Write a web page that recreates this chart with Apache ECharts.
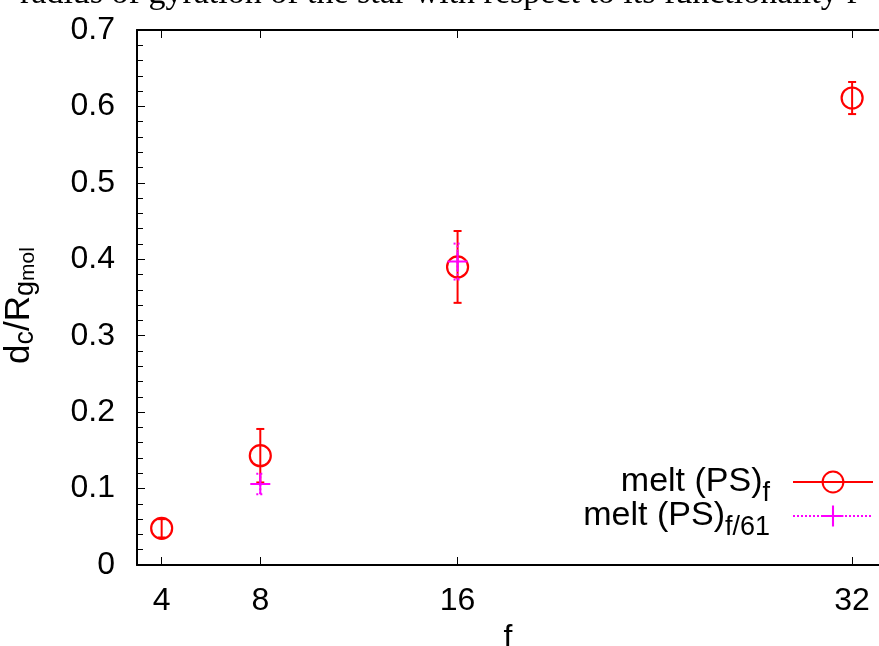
<!DOCTYPE html>
<html>
<head>
<meta charset="utf-8">
<script src="https://cdn.jsdelivr.net/npm/echarts@6/dist/echarts.min.js"></script>
<style>
html,body{margin:0;padding:0;background:#fff;}
#chart{width:879px;height:646px;}
</style>
</head>
<body>
<div id="chart"></div>
<script>
// ---- data ----
const xTickValues = [4, 8, 16, 32];
const fMelt = [4, 8, 16, 32];
const meltF = [0.048, 0.143, 0.390, 0.611];
const meltFErr = [0.012, 0.035, 0.047, 0.021];
const fMelt61 = [8, 16];
const meltF61 = [0.106, 0.397];
const meltF61Err = [0.0135, 0.0235];
const titleText = 'radius of gyration of the star with respect to its functionality f';

const RED = '#ff0000';
const MAG = '#ff00ff';
const FONT = '"Liberation Sans", Arial, sans-serif';

function errData(xs, ys, es) { return xs.map((x, i) => [x, ys[i], es[i]]); }
function ptData(xs, ys) { return xs.map((x, i) => [x, ys[i]]); }

function errRenderer(color, dash) {
  return function (params, api) {
    const x = api.value(0), y = api.value(1), e = api.value(2);
    const lo = api.coord([x, y - e]);
    const hi = api.coord([x, y + e]);
    const cw = 4;
    const style = { stroke: color, lineWidth: 2, lineDash: dash };
    return {
      type: 'group',
      children: [
        { type: 'line', shape: { x1: lo[0], y1: lo[1], x2: hi[0], y2: hi[1] }, style: style },
        { type: 'line', shape: { x1: lo[0] - cw, y1: lo[1], x2: lo[0] + cw, y2: lo[1] }, style: style },
        { type: 'line', shape: { x1: hi[0] - cw, y1: hi[1], x2: hi[0] + cw, y2: hi[1] }, style: style }
      ]
    };
  };
}

const chart = echarts.init(document.getElementById('chart'), null, { renderer: 'canvas' });
const axisLineStyle = { color: '#000', width: 2 };

const option = {
  backgroundColor: '#fff',
  animation: false,
  grid: { left: 137, right: 0, top: 30, bottom: 81, containLabel: false, outerBoundsMode: 'none' },
  graphic: [
    {
      type: 'text', left: 20, top: -23,
      style: { text: titleText, font: '34px "Liberation Serif", serif', fill: '#000' }
    }
  ],
  legend: {
    orient: 'vertical',
    right: 0,
    top: 460,
    align: 'right',
    itemWidth: 80,
    itemHeight: 26,
    itemGap: -8,
    selectedMode: false,
    formatter: function (name) {
      if (name === 'f') return '{m|melt (PS)}{s|f}';
      return '{m|melt (PS)}{s|f/61}';
    },
    textStyle: {
      rich: {
        m: { fontFamily: FONT, fontSize: 34, color: '#000', lineHeight: 50 },
        s: { fontFamily: FONT, fontSize: 27, color: '#000', lineHeight: 10, verticalAlign: 'bottom', padding: [0, 18, 0, 0] }
      }
    },
    data: [
      { name: 'f', lineStyle: { color: RED, width: 2, opacity: 1, type: 'solid' } },
      { name: 'f/61', lineStyle: { color: MAG, width: 2, opacity: 1, type: [2, 2] } }
    ]
  },
  xAxis: [
    {
      type: 'value', min: 3, max: 33.09, position: 'bottom',
      name: 'f', nameLocation: 'middle', nameGap: 48,
      nameTextStyle: { fontFamily: FONT, fontSize: 32, color: '#000' },
      axisLine: { show: true, onZero: false, lineStyle: axisLineStyle },
      axisTick: { show: true, inside: true, length: 8, customValues: xTickValues, lineStyle: { color: '#000', width: 1 } },
      axisLabel: { show: true, customValues: xTickValues, margin: 20, fontFamily: FONT, fontSize: 32, color: '#000' },
      splitLine: { show: false }
    },
    {
      type: 'value', min: 3, max: 33.09, position: 'top',
      axisLine: { show: true, onZero: false, lineStyle: axisLineStyle },
      axisTick: { show: true, inside: true, length: 8, customValues: xTickValues, lineStyle: { color: '#000', width: 1 } },
      axisLabel: { show: false },
      splitLine: { show: false }
    }
  ],
  yAxis: [
    {
      type: 'value', min: 0, max: 0.7, interval: 0.1, position: 'left',
      name: '{m|d}{s|c}{m|/R}{s|g}{t|mol}',
      nameLocation: 'middle', nameRotate: 90, nameGap: 98,
      nameTextStyle: {
        padding: [0, 16, 0, 0],
        rich: {
          m: { fontFamily: FONT, fontSize: 35, color: '#000', lineHeight: 40 },
          s: { fontFamily: FONT, fontSize: 27, color: '#000', lineHeight: 20, verticalAlign: 'bottom' },
          t: { fontFamily: FONT, fontSize: 21, color: '#000', lineHeight: 2, verticalAlign: 'bottom' }
        }
      },
      axisLine: { show: true, onZero: false, lineStyle: axisLineStyle },
      axisTick: { show: true, inside: true, length: 8, lineStyle: { color: '#000', width: 1 } },
      minorTick: { show: true, splitNumber: 5, length: 6, lineStyle: { color: '#000', width: 1 } },
      axisLabel: { margin: 22, fontFamily: FONT, fontSize: 32, color: '#000',
        formatter: function (v) { return v === 0 ? '0' : v.toFixed(1); } },
      splitLine: { show: false }
    }
  ],
  series: [
    {
      name: 'f-err', type: 'custom', xAxisIndex: 0, yAxisIndex: 0,
      renderItem: errRenderer(RED, null),
      data: errData(fMelt, meltF, meltFErr), z: 2
    },
    {
      name: 'f', type: 'line', xAxisIndex: 0, yAxisIndex: 0,
      data: ptData(fMelt, meltF),
      symbol: 'circle', symbolSize: 21, showSymbol: true,
      itemStyle: { color: 'rgba(0,0,0,0)', borderColor: RED, borderWidth: 2.2 },
      lineStyle: { opacity: 0, width: 0 },
      color: RED, z: 3
    },
    {
      name: 'f/61-err', type: 'custom', xAxisIndex: 0, yAxisIndex: 0,
      renderItem: errRenderer(MAG, [2, 2]),
      data: errData(fMelt61, meltF61, meltF61Err), z: 4
    },
    {
      name: 'f/61', type: 'line', xAxisIndex: 0, yAxisIndex: 0,
      data: ptData(fMelt61, meltF61),
      symbol: 'path://M0,9H20V11H0ZM9,0H11V20H9Z', symbolSize: 20, showSymbol: true,
      itemStyle: { color: MAG },
      lineStyle: { opacity: 0, width: 0 },
      color: MAG, z: 5
    }
  ]
};
chart.setOption(option);
</script>
</body>
</html>
